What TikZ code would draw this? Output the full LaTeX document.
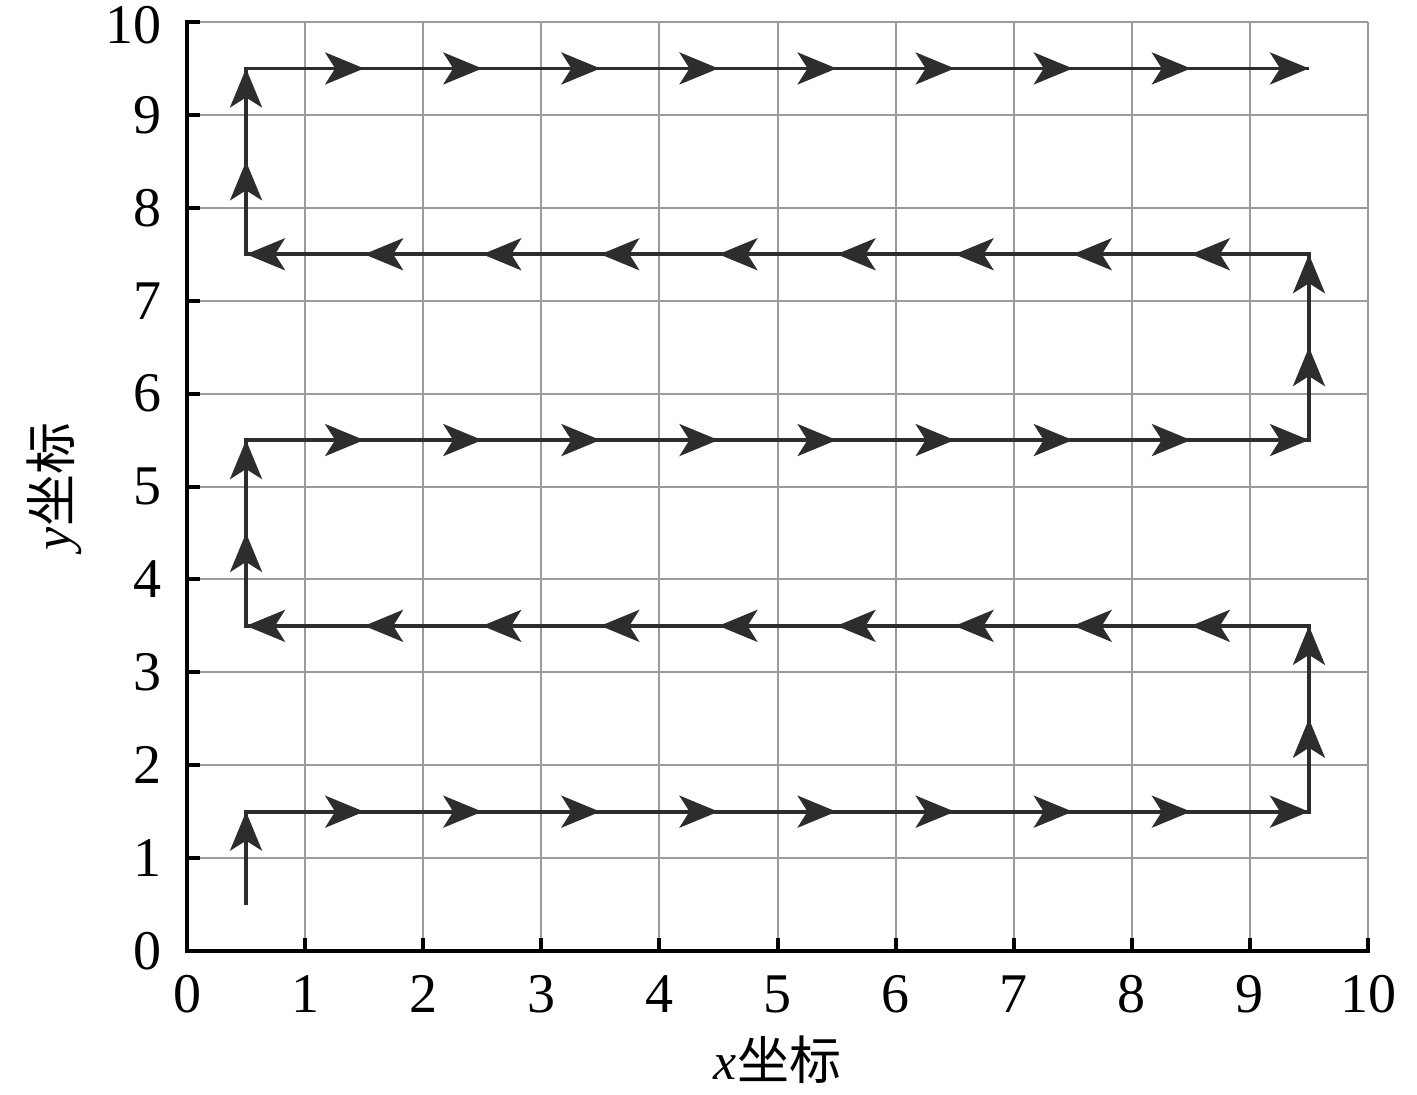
\documentclass[tikz,border=0pt]{standalone}
\usepackage{fontspec}
\setmainfont{Liberation Serif}
\newfontfamily\cjk{Noto Sans CJK SC}
\usetikzlibrary{arrows.meta}
\definecolor{gridgray}{RGB}{155,155,155}
\definecolor{pathcol}{RGB}{45,45,45}
\begin{document}
\begin{tikzpicture}[x=59.05pt,y=46.45pt,
  gridline/.style={gridgray,line width=1pt},
  axisline/.style={black,line width=2pt},
  route/.style={pathcol,line width=1.9pt},
  seg/.style={route,-{Stealth[length=19.5pt,width=16pt,inset=5pt]}},
  ticklab/.style={font=\fontsize{28}{30}\selectfont, inner sep=0pt},
  axlab/.style={font=\fontsize{26}{29}\selectfont, inner sep=0pt}]
\useasboundingbox (-93.5pt,-71.5pt) rectangle (615pt,475.5pt);
% grid
\foreach \i in {1,...,10} {
  \draw[gridline] (\i,0) -- (\i,10);
  \draw[gridline] (0,\i) -- (10,\i);
}
% cell centres
\foreach \i in {0,...,9} \foreach \j in {0,...,9} \coordinate (c\i-\j) at (\i+0.5,\j+0.5);
% route
\draw[route, line join=miter] (c0-0) -- (c0-1) -- (c9-1) -- (c9-3) -- (c0-3) -- (c0-5) -- (c9-5) -- (c9-7) -- (c0-7) -- (c0-9) -- (c9-9);
\draw[seg] (c0-0) -- (c0-1);
\foreach \j in {1,5,9} {
  \foreach \a/\b in {0/1,1/2,2/3,3/4,4/5,5/6,6/7,7/8,8/9} \draw[seg] (c\a-\j) -- (c\b-\j);
}
\foreach \j in {3,7} {
  \foreach \a/\b in {9/8,8/7,7/6,6/5,5/4,4/3,3/2,2/1,1/0} \draw[seg] (c\a-\j) -- (c\b-\j);
}
\foreach \a/\b in {1/2,2/3,5/6,6/7} \draw[seg] (c9-\a) -- (c9-\b);
\foreach \a/\b in {3/4,4/5,7/8,8/9} \draw[seg] (c0-\a) -- (c0-\b);
% axes
\coordinate (o) at (0,0);
\coordinate (ytop) at (0,10);
\coordinate (xend) at (10,0);
\draw[axisline, line join=miter, line cap=rect] (ytop) -- (o) -- (xend);
\foreach \i in {0,...,10} {
  \draw[axisline] (\i,0) -- ++(0,6.5pt);
  \draw[axisline] (0,\i) -- ++(6.5pt,0);
  \node[ticklab, anchor=north] (xl\i) at ([yshift=-12pt]\i,0) {\i};
}
\foreach \i in {0,...,9}
  \node[ticklab, anchor=east] (yl\i) at ([xshift=-12.5pt]0,\i) {\i};
\node[ticklab, anchor=east] (yl10) at ([xshift=-12.5pt,yshift=-1.5pt]0,10) {10};
\node[axlab, anchor=base] (xlab) at ([yshift=-64pt]5,0) {\textit{x}{\cjk 坐标}};
\node[axlab, anchor=base, rotate=90] (ylab) at ([xshift=-58pt]0,5) {\textit{y}{\cjk 坐标}};
\end{tikzpicture}
\end{document}
